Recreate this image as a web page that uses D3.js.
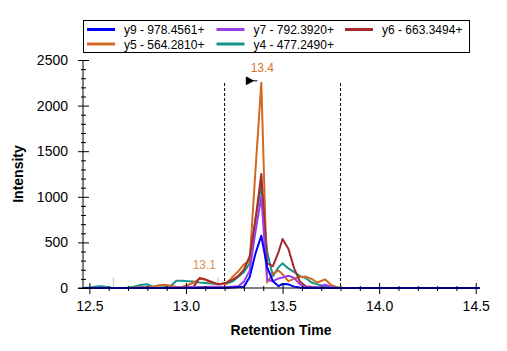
<!DOCTYPE html>
<html>
<head>
<meta charset="utf-8">
<script src="https://cdn.jsdelivr.net/npm/d3@7"></script>
<style>
  body { margin: 0; background: #fff; }
  svg { display: block; font-family: Arial, "Liberation Sans", sans-serif; }
</style>
</head>
<body>
<svg id="chart"></svg>
<script>
// retention times (min), shared by every transition
const times = [12.47, 12.50, 12.53, 12.56, 12.59, 12.62, 12.65, 12.68, 12.71, 12.74, 12.77, 12.80,
  12.83, 12.86, 12.89, 12.92, 12.95, 12.98, 13.01, 13.04, 13.07, 13.10, 13.13, 13.16,
  13.18, 13.21, 13.24, 13.27, 13.30, 13.33, 13.36, 13.39, 13.42, 13.45, 13.48, 13.50,
  13.53, 13.56, 13.59, 13.62, 13.65, 13.68, 13.72, 13.75, 13.78, 13.81,
  13.84, 13.90, 14.00, 14.10, 14.20, 14.30, 14.40, 14.52];

// intensities per fragment ion
const y9 = [0, 0, 0, 0, 0, 0, 0, 0, 0, 0, 0, 0, 0, 0, 0, 0, 0, 0, 0, 0, 0, 0, 0, 0,
  0, 0, 5, 10, 15, 120, 380, 573, 230, 75, 20, 45, 40, 15, 5, 0, 0, 0, 0, 0, 0, 0,
  0, 0, 0, 0, 0, 0, 0, 0];
const y7 = [0, 0, 0, 0, 0, 0, 0, 0, 0, 0, 5, 5, 0, 0, 0, 5, 5, 5, 10, 10, 10, 10, 15, 15,
  10, 10, 15, 20, 70, 190, 620, 1000, 90, 75, 105, 115, 135, 110, 40, 10, 5, 10, 35, 15, 0, 0,
  0, 0, 0, 0, 0, 0, 0, 0];
const y6 = [0, 0, 0, 0, 0, 0, 0, 0, 0, 0, 0, 0, 0, 0, 0, 0, 0, 0, 5, 15, 110, 95, 70, 45,
  45, 60, 90, 130, 200, 350, 750, 1250, 270, 240, 400, 537, 430, 215, 70, 20, 10, 5, 0, 0, 0, 0,
  0, 0, 0, 0, 0, 0, 0, 0];
const y5 = [0, 0, 0, 0, 0, 0, 0, 0, 0, 5, 10, 10, 15, 30, 35, 25, 10, 15, 30, 60, 100, 90, 60, 45,
  40, 50, 120, 180, 260, 300, 1300, 2250, 60, 160, 190, 150, 75, 100, 122, 125, 100, 60, 95, 35, 8, 0,
  0, 0, 0, 0, 0, 0, 0, 0];
const y4 = [0, 5, 15, 20, 10, 0, 0, 0, 5, 20, 35, 40, 15, 5, 10, 20, 80, 80, 75, 70, 60, 55, 50, 45,
  40, 50, 70, 120, 175, 270, 760, 1120, 400, 130, 230, 270, 215, 175, 130, 110, 60, 40, 20, 10, 5, 0,
  0, 0, 0, 0, 0, 0, 0, 0];

const seriesNames = ['y9 - 978.4561+', 'y7 - 792.3920+', 'y6 - 663.3494+', 'y5 - 564.2810+', 'y4 - 477.2490+'];
const seriesValues = [y9, y7, y6, y5, y4];
const seriesColors = ['#0000ff', '#9a3ee8', '#a52a2a', '#d2691e', '#16928a'];

const xTicks = [12.5, 13.0, 13.5, 14.0, 14.5];
const yTicks = [0, 500, 1000, 1500, 2000, 2500];
const peakLabels = [{t: 13.39, v: 2250, text: '13.4'}, {t: 13.09, v: 90, text: '13.1'}];
const integrationBounds = [13.2, 13.8];
const otherPeaks = [12.625, 13.165];

const width = 507, height = 351;
const svg = d3.select('#chart').attr('width', width).attr('height', height);

const x = d3.scaleLinear().domain([12.467, 14.522]).range([83, 480]);
const y = d3.scaleLinear().domain([0, 2500]).range([288, 60]);

//legend
const legend = svg.append('g');
legend.append('rect')
  .attr('x', 83.5).attr('y', 20.5).attr('width', 386).attr('height', 32)
  .attr('fill', 'none').attr('stroke', '#000').attr('stroke-width', 1);
const colX = [87, 216.5, 345];
const rowY = [29.5, 44];
seriesNames.forEach((name, i) => {
  const gx = colX[i % 3], gy = rowY[Math.floor(i / 3)];
  legend.append('line')
    .attr('x1', gx).attr('x2', gx + 28).attr('y1', gy).attr('y2', gy)
    .attr('stroke', seriesColors[i]).attr('stroke-width', 3);
  legend.append('text')
    .attr('x', gx + 37).attr('y', gy + 4.5)
    .style('font-size', '12px')
    .text(name);
});

//other peak marks
svg.selectAll('.other').data(otherPeaks).enter().append('line')
  .attr('x1', d => x(d)).attr('x2', d => x(d))
  .attr('y1', y(110)).attr('y2', y(0))
  .attr('stroke', '#d0d0d0').attr('stroke-width', 1.5);

//integration boundaries
svg.selectAll('.bound').data(integrationBounds).enter().append('line')
  .attr('x1', d => x(d)).attr('x2', d => x(d))
  .attr('y1', 83).attr('y2', y(0))
  .attr('stroke', '#000').attr('stroke-width', 1)
  .attr('stroke-dasharray', '3,2');

//lines (drawn in reverse legend order)
const line = d3.line()
  .x((d, i) => x(times[i]))
  .y(d => y(d));
for (let i = seriesValues.length - 1; i >= 0; i--) {
  svg.append('path')
    .datum(seriesValues[i])
    .attr('d', line)
    .attr('fill', 'none')
    .attr('stroke', seriesColors[i])
    .attr('stroke-width', 2)
    .attr('stroke-linejoin', 'round');
}

//axes
const xAxis = svg.append('g')
  .attr('transform', `translate(0, ${y(0)})`)
  .call(d3.axisBottom(x).tickValues(xTicks).tickFormat(d3.format('.1f')).tickSize(0).tickPadding(13));
xAxis.select('.domain').remove();
xAxis.selectAll('.tick text').style('font-size', '14px').attr('fill', '#000');
xAxis.selectAll('.tick line').attr('y1', -5).attr('y2', 6).attr('stroke', '#000');

const xMinor = svg.append('g')
  .attr('transform', `translate(0, ${y(0)})`)
  .call(d3.axisBottom(x).tickValues(d3.range(125, 146).map(d => d / 10).filter(d => d * 2 % 1 !== 0)).tickFormat('').tickSize(0));
xMinor.select('.domain').remove();
xMinor.selectAll('.tick line').attr('y1', -2).attr('y2', 3).attr('stroke', '#000');

const yAxis = svg.append('g')
  .attr('transform', `translate(${x.range()[0]}, 0)`)
  .call(d3.axisLeft(y).tickValues(yTicks).tickFormat(d3.format('d')).tickSize(0).tickPadding(15));
yAxis.select('.domain').remove();
yAxis.selectAll('.tick text').style('font-size', '14px').attr('fill', '#000');
yAxis.selectAll('.tick line').attr('x1', -5).attr('x2', 6).attr('stroke', '#000');

const yMinor = svg.append('g')
  .attr('transform', `translate(${x.range()[0]}, 0)`)
  .call(d3.axisLeft(y).tickValues(d3.range(0, 2501, 100).filter(d => d % 500 !== 0)).tickFormat('').tickSize(0));
yMinor.select('.domain').remove();
yMinor.selectAll('.tick line').attr('x1', -2).attr('x2', 3).attr('stroke', '#000');

svg.append('line')
  .attr('x1', 78).attr('x2', 480).attr('y1', y(0)).attr('y2', y(0))
  .attr('stroke', '#000').attr('stroke-width', 1);
svg.append('line')
  .attr('x1', x.range()[0]).attr('x2', x.range()[0]).attr('y1', y(2500)).attr('y2', y(0))
  .attr('stroke', '#000').attr('stroke-width', 1);

//axis labels
svg.append('text')
  .attr('x', 281).attr('y', 335)
  .attr('text-anchor', 'middle')
  .style('font-size', '14px').style('font-weight', 'bold')
  .text('Retention Time');
svg.append('text')
  .attr('transform', 'rotate(-90)')
  .attr('x', -174).attr('y', 23)
  .attr('text-anchor', 'middle')
  .style('font-size', '14px').style('font-weight', 'bold')
  .text('Intensity');

//peak annotations
svg.selectAll('.plabel').data(peakLabels).enter().append('text')
  .attr('x', d => x(d.t) + 1)
  .attr('y', d => y(d.v) - 10.5)
  .attr('text-anchor', 'middle')
  .attr('fill', (d, i) => i === 0 ? '#d8722a' : '#e0904a')
  .style('font-size', '12px')
  .text(d => d.text);

//apex marker
const apex = peakLabels[0];
svg.append('path')
  .attr('transform', `translate(${x(apex.t) - 15}, ${y(apex.v) - 2})`)
  .attr('d', 'M0,-3.8 L7,0 L0,3.8 Z M6,0 L11,0')
  .attr('fill', '#000').attr('stroke', '#000').attr('stroke-width', 1);
</script>
</body>
</html>
